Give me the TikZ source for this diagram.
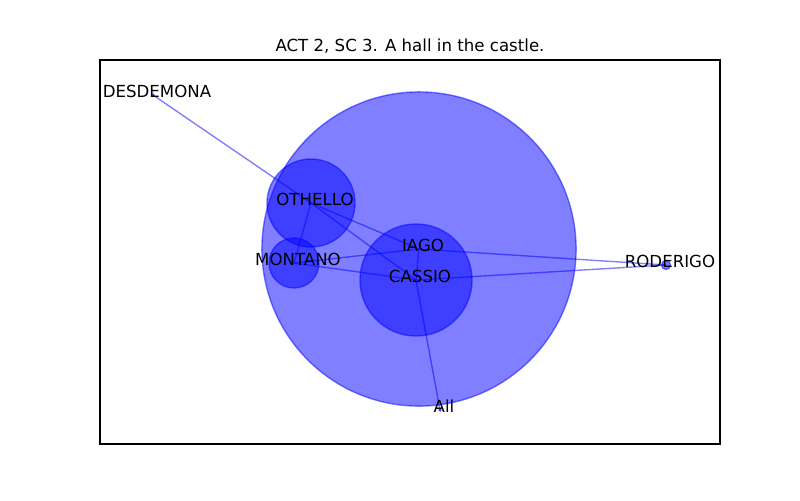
\documentclass[tikz,border=0pt]{standalone}
\usepackage{fontspec}
\setmainfont{DejaVu Sans}
\usepackage{xcolor}
\usepackage{tikz}

\begin{document}
\begin{tikzpicture}[
  x=0.01in,y=-0.01in,
  actor/.style={circle,inner sep=0pt,fill=blue,draw=blue,fill opacity=0.5,draw opacity=0.5,line width=1pt},
  tie/.style={draw=blue,draw opacity=0.5,line width=1pt},
  rolelabel/.style={inner sep=0pt,text=black,font=\fontsize{12}{14}\selectfont,xshift=0.04in,yshift=0.035in}
]
\useasboundingbox (0,0) rectangle (800,500);
\node[inner sep=0pt,anchor=base,font=\fontsize{12}{14}\selectfont] (title) at (410,51) {ACT 2, SC 3. A hall in the castle.};
\draw[line width=0.8pt] (100,60) rectangle (720,444);
% positions of the characters
\coordinate (desdemona) at (153,95);
\coordinate (othello) at (311,203);
\coordinate (iago) at (419,249);
\coordinate (montano) at (294,263);
\coordinate (cassio) at (416,280);
\coordinate (roderigo) at (666,265);
\coordinate (all) at (440,410);
% edges
\draw[tie] (desdemona) -- (othello);
\draw[tie] (othello) -- (montano);
\draw[tie] (othello) -- (iago);
\draw[tie] (othello) -- (cassio);
\draw[tie] (montano) -- (iago);
\draw[tie] (montano) -- (cassio);
\draw[tie] (iago) -- (cassio);
\draw[tie] (iago) -- (roderigo);
\draw[tie] (cassio) -- (roderigo);
\draw[tie] (cassio) -- (all);
% nodes
\node[actor,minimum size=3.14in] (iagoc) at (iago) {};
\node[actor,minimum size=1.12in] (cassioc) at (cassio) {};
\node[actor,minimum size=0.88in] (othelloc) at (othello) {};
\node[actor,minimum size=0.50in] (montanoc) at (montano) {};
\node[actor,minimum size=0.09in] (roderigoc) at (roderigo) {};
\node[actor,minimum size=0.02in] (desdemonac) at (desdemona) {};
\node[actor,minimum size=0.02in] (allc) at (all) {};
% labels
\node[rolelabel] (desdemonal) at (desdemona) {DESDEMONA};
\node[rolelabel] (othellol) at (othello) {OTHELLO};
\node[rolelabel] (iagol) at (iago) {IAGO};
\node[rolelabel] (montanol) at (montano) {MONTANO};
\node[rolelabel] (cassiol) at (cassio) {CASSIO};
\node[rolelabel] (roderigol) at (roderigo) {RODERIGO};
\node[rolelabel] (alll) at (all) {All};
\end{tikzpicture}
\end{document}
